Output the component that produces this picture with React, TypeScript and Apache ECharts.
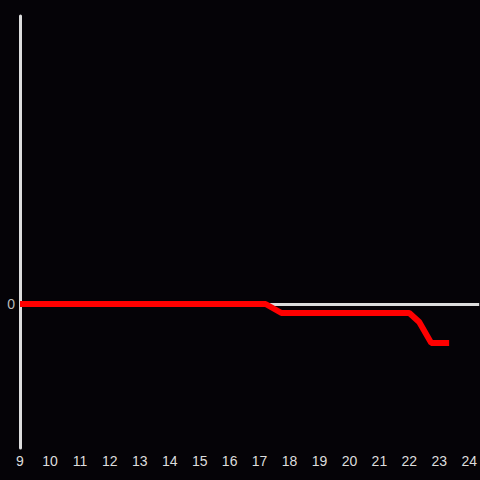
import React, { useEffect, useRef } from "react";
import * as echarts from "echarts";

const hours: number[] = [9, 17.2, 17.73, 22, 22.33, 22.73, 23.33];
const values: number[] = [0, 0, -0.0625, -0.0625, -0.125, -0.27, -0.27];
const xTicks: number[] = [9, 10, 11, 12, 13, 14, 15, 16, 17, 18, 19, 20, 21, 22, 23, 24];
const yTickLabels: number[] = [0];

export default function App() {
  const ref = useRef<HTMLDivElement>(null);
  useEffect(() => {
    if (!ref.current) return;
    const chart = echarts.init(ref.current, undefined, { renderer: "svg" });
    chart.setOption({
      animation: false,
      backgroundColor: "#050307",
      grid: { left: 20, right: 0, top: 16, bottom: 32 },
      xAxis: {
        type: "value",
        min: 9,
        max: 24.333,
        interval: 1,
        axisLine: { show: false },
        axisTick: { show: false },
        splitLine: { show: false },
        axisLabel: {
          color: "#dddddd",
          fontSize: 14,
          fontFamily: "Liberation Sans, Arial, sans-serif",
          margin: 6,
          showMaxLabel: false,
          formatter: (v: number) => (xTicks.includes(v) ? String(v) : ""),
        },
      },
      yAxis: {
        type: "value",
        min: -1,
        max: 2,
        interval: 1,
        axisLine: { show: true, onZero: false, lineStyle: { color: "#dddddd", width: 3 } },
        axisTick: { show: false },
        splitLine: { show: false },
        axisLabel: {
          color: "#bbbbbb",
          fontSize: 14,
          fontFamily: "Liberation Sans, Arial, sans-serif",
          margin: 5,
          formatter: (v: number) => (yTickLabels.includes(v) ? String(v) : ""),
        },
      },
      series: [
        {
          type: "line",
          data: hours.map((h, i) => [h, values[i]]),
          showSymbol: false,
          symbol: "none",
          lineStyle: { color: "#ff0000", width: 6 },
          z: 3,
          markLine: {
            silent: true,
            symbol: ["none", "none"],
            label: { show: false },
            lineStyle: { color: "#dddddd", width: 3, type: "solid" },
            data: [{ yAxis: 0 }],
            z: 1,
          },
        },
      ],
    });
    return () => chart.dispose();
  }, []);
  return (
    <div
      ref={ref}
      style={{ position: "fixed", left: 0, top: 0, width: 480, height: 480 }}
    />
  );
}
